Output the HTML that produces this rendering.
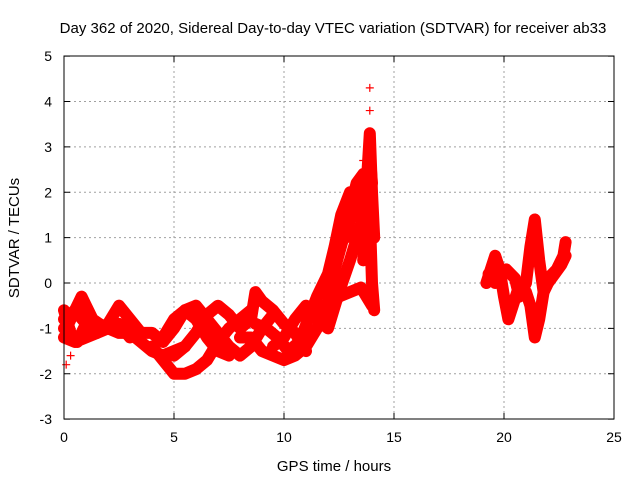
<!DOCTYPE html>
<html><head><meta charset="utf-8"><style>
body{margin:0;background:#fff;}
svg{display:block;font-family:"Liberation Sans",sans-serif;}
</style></head><body>
<svg id="chart" width="640" height="480">
<text x="333" y="33" font-size="15" text-anchor="middle">Day 362 of 2020, Sidereal Day-to-day VTEC variation (SDTVAR) for receiver ab33</text>
<text x="334" y="471" font-size="15" text-anchor="middle">GPS time / hours</text>
<text transform="translate(19,238) rotate(-90)" font-size="15" text-anchor="middle">SDTVAR / TECUs</text>
<g id="grid"></g><g id="ticks"></g><g id="marks"></g>
<rect x="64" y="56" width="550" height="363" fill="none" stroke="#000" stroke-width="1"/>
</svg>
<script>
const xTicks=[0,5,10,15,20,25];
const yTicks=[-3,-2,-1,0,1,2,3,4,5];
const trackTimes=[
[0,0.2,0.4,0.6,0.8,1.0,1.3,1.6,2.0,2.5,3,3.5,4,4.5,5,5.5],
[0,0.5,1,1.5,2,2.5,3,3.5,4,4.5,5,5.5,6,6.5,7,7.5],
[4,4.5,5,5.5,6,6.5,7,7.5,8,8.5],
[4.5,5,5.5,6,6.5,7,7.5,8,8.5,9,9.5],
[5,5.5,6,6.5,7,7.5,8,8.5,8.7,9,9.5,10,10.5,11],
[8,8.5,9,9.5,10,10.5,11,11.5,12,12.5,13,13.5,14],
[8.7,9.2,9.7,10.2,10.7,11.1,11.5,12,12.3,12.6,13,13.3,13.6,14],
[9.5,10,10.5,11,11.5,12,12.5,13,13.5,13.8,13.9,14,14.1],
[11.5,12,12.3,12.7,13,13.3,13.6,13.9,14,14.1],
[19.2,19.4,19.6,19.8,20,20.2,20.4,20.6,20.8,21,21.2,21.4,21.6,21.8,22,22.4,22.7,22.8],
[19.3,19.6,19.9,20.1,20.3,20.5,20.7,21,21.2,21.4,21.6,21.8,22,22.3,22.6,22.8],
[0,0.5,1,1.5,2,2.5,3],
[12.8,13.2,13.5,13.8,14],
[13.6,13.8,13.9,14.0],
[0,0.3,0.6,0.9,1.2],
[13.9,13.9,13.6,0.1,0.3]
];
const trackValues=[
[-1.0,-0.9,-0.7,-0.5,-0.3,-0.5,-0.8,-0.9,-1.0,-1.1,-1.1,-1.3,-1.5,-1.6,-1.5,-1.4],
[-1.2,-1.3,-1.2,-1.1,-0.9,-0.5,-0.8,-1.1,-1.1,-1.3,-1.0,-0.6,-0.8,-1.2,-1.5,-1.6],
[-1.4,-1.7,-2.0,-2.0,-1.9,-1.7,-1.3,-1.0,-0.8,-0.6],
[-1.2,-0.8,-0.6,-0.5,-0.8,-1.1,-1.4,-1.6,-1.4,-1.0,-0.7],
[-1.6,-1.4,-1.1,-0.7,-0.5,-0.7,-1.0,-0.8,-0.2,-0.4,-0.6,-0.9,-1.1,-1.5],
[-1.2,-1.2,-1.5,-1.6,-1.7,-1.6,-1.4,-1.0,-0.6,-0.3,-0.2,-0.1,-0.5],
[-0.9,-1.0,-1.2,-1.5,-1.3,-0.8,-0.3,0.2,0.8,1.5,2.0,1.8,1.5,2.0],
[-1.4,-1.2,-0.8,-0.5,-0.8,-1.0,-0.2,0.5,1.3,2.5,3.3,2.0,1.0],
[-0.8,-0.4,0.3,1.0,1.6,2.2,2.4,1.5,0.0,-0.6],
[0.0,0.3,0.6,0.3,-0.3,-0.8,-0.5,-0.2,-0.2,0.0,0.8,1.4,0.5,-0.2,0.1,0.3,0.6,0.9],
[0.2,0.0,0.2,0.3,0.2,0.1,-0.3,-0.2,-0.5,-1.2,-0.8,-0.2,0.0,0.2,0.4,0.6],
[-0.8,-0.6,-0.9,-1.1,-1.0,-0.9,-1.2],
[1.0,1.8,2.0,1.8,1.5],
[0.5,1.5,2.8,2.2],
[-0.6,-1.1,-1.3,-1.0,-0.8],
[4.3,3.8,2.7,-1.8,-1.6]
];
const X=t=>64+t*22, Y=v=>283-v*45.375;
const ns="http://www.w3.org/2000/svg";
const grid=document.getElementById('grid'),ticks=document.getElementById('ticks'),marks=document.getElementById('marks');
function mk(tag,a,p){const e=document.createElementNS(ns,tag);for(const k in a)e.setAttribute(k,a[k]);p.appendChild(e);return e;}
xTicks.forEach(t=>{
  if(t>0&&t<25){const g=mk('line',{x1:X(t),x2:X(t),y1:56,y2:419,stroke:'#a0a0a0','stroke-dasharray':'2,3'},grid);
  
  }
  mk('line',{x1:X(t),x2:X(t),y1:419,y2:413,stroke:'#000'},ticks);
  mk('line',{x1:X(t),x2:X(t),y1:56,y2:62,stroke:'#000'},ticks);
  const l=mk('text',{x:X(t),y:442,'font-size':14,'text-anchor':'middle'},ticks);l.textContent=t;
  
  
});
yTicks.forEach(v=>{
  if(v>-3&&v<5){const g=mk('line',{x1:64,x2:614,y1:Y(v),y2:Y(v),stroke:'#a0a0a0','stroke-dasharray':'2,3'},grid);
  
  }
  mk('line',{x1:64,x2:70,y1:Y(v),y2:Y(v),stroke:'#000'},ticks);
  mk('line',{x1:608,x2:614,y1:Y(v),y2:Y(v),stroke:'#000'},ticks);
  const l=mk('text',{x:52,y:Y(v)+5,'font-size':14,'text-anchor':'end'},ticks);l.textContent=v;
  
  
});
trackTimes.forEach((ts,i)=>{
  const vs=trackValues[i];
  if(i<trackTimes.length-1){
    const pl=mk('polyline',{points:ts.map((t,j)=>X(t)+','+Y(vs[j])).join(' '),fill:'none',stroke:'#ff0000','stroke-width':12,'stroke-linejoin':'round','stroke-linecap':'round'},marks);
    
    
  }
  ts.forEach((t,j)=>{
    const x=X(t),y=Y(vs[j]);
    const p=mk('path',{d:`M${x-4},${y}H${x+4}M${x},${y-4}V${y+4}`,stroke:'#ff0000','stroke-width':1.2},marks);
    
    
  });
});
</script>
</body></html>
